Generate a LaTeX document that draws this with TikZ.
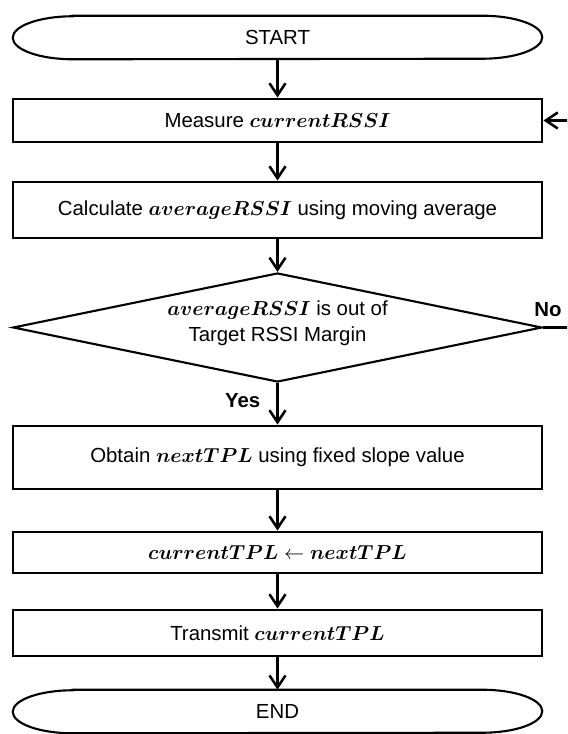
\documentclass[tikz,border=0pt]{standalone}
\usepackage{amsmath}
\usepackage{fontspec}
\setmainfont{Liberation Sans}
\usepackage{tikz}
\usetikzlibrary{fit,shapes.geometric,arrows.meta}

\tikzset{
    box/.style={draw, line width=2.1pt, inner sep=0pt},
    term/.style={inner sep=0pt},
    flow/.style={line width=1.8pt, -{Straight Barb[length=3mm, width=4mm]}},
    tag/.style={font=\fontsize{14.5}{17}\selectfont\bfseries},
}
\newcommand{\var}[1]{$\boldsymbol{#1}$}

\begin{document}
\begin{tikzpicture}[x=0.025cm, y=0.025cm, font=\fontsize{14.5}{18}\selectfont]
        \useasboundingbox (0, 0) rectangle (567, -734);
        \clip (0, 0) rectangle (567, -734);

        \node[term, fit={(13, -16) (542, -59)},   label=center:START] (S) {};
        \node[box, fit={(13, -99) (542, -142)},   label=center:{Measure \var{currentRSSI}}] (A) {};
        \node[box, fit={(13, -182) (542, -238)},  label=center:{Calculate \var{averageRSSI} using moving average}] (B) {};
        \node[draw, diamond, line width=1.5pt, inner sep=0pt, minimum width=13.225cm, minimum height=2.725cm,
              label={[align=center, yshift=3pt]center:\var{averageRSSI} is out of\\Target RSSI Margin}] (C) at (277.5, -327.5) {};
        \node[box, fit={(13, -426) (542, -489)},  label=center:{Obtain \var{nextTPL} using fixed slope value}] (D) {};
        \node[box, fit={(13, -532) (542, -573)},  label=center:{\var{currentTPL} $\leftarrow$ \var{nextTPL}}] (E) {};
        \node[box, fit={(13, -610) (542, -656)},  label=center:{Transmit \var{currentTPL}}] (F) {};
        \node[term, fit={(13, -690) (542, -733)}, label=center:END] (G) {};

        % start / end outlines
        \foreach \t in {S, G}
            \draw[line width=1.5pt] ([xshift=1.5cm]\t.north west) -- ([xshift=-1.5cm]\t.north east)
                arc[start angle=90, end angle=-90, x radius=1.5cm, y radius=0.5375cm]
                -- ([xshift=1.5cm]\t.south west)
                arc[start angle=270, end angle=90, x radius=1.5cm, y radius=0.5375cm] -- cycle;

        \draw [flow]          (S)--(A);
        \draw [flow]          (A)--(B);
        \draw [flow]          (B)--(C);
        \draw [flow]          (C)--(D) node[tag, midway, left, xshift=-8pt, yshift=2pt] {Yes};
        \draw [flow]          (D)--(E);
        \draw [flow]          (E)--(F);
        \draw [flow]          (F)--(G);

        \coordinate (R) at (590, -327.5);
        \draw [flow]          (C.east) -- (R) |- (A.east);
        \node[tag, anchor=south] (no) at (548, -322) {No};
\end{tikzpicture}
\end{document}
